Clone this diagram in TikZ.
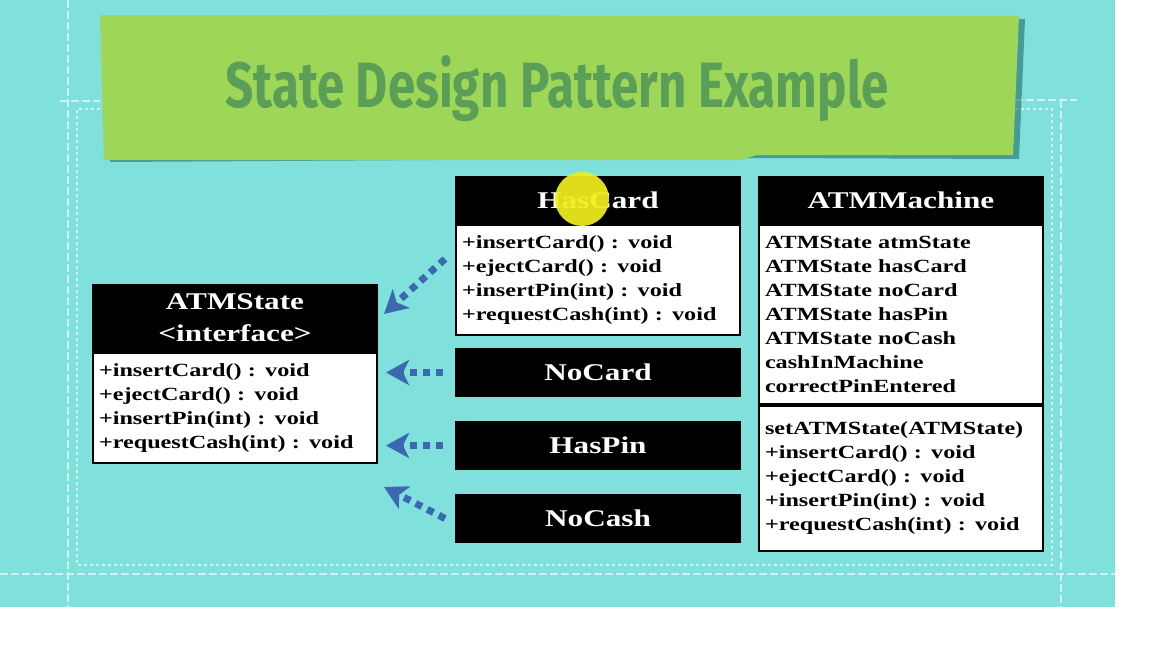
\documentclass[tikz,border=0pt]{standalone}
\usepackage{fontspec}
\usetikzlibrary{arrows.meta}
\newfontfamily\umlfont[FakeStretch=1.3]{Liberation Serif}
\newfontfamily\titlefont[FakeStretch=0.77]{Fira Sans}
\definecolor{turq}{HTML}{80E0DC}
\definecolor{banner}{HTML}{9ED658}
\definecolor{bannerink}{HTML}{5A9E58}
\definecolor{implblue}{HTML}{3B68B0}
\definecolor{pointer}{HTML}{F0EE1E}
\begin{document}
\begin{tikzpicture}[x=0.5pt, y=-0.5pt, line join=miter,
	umlhead/.style={anchor=north west, fill=black, draw=black, line width=1pt, text=white, minimum width=142pt, minimum height=23pt, inner sep=0pt, align=center, font=\umlfont\bfseries\fontsize{12}{16}\selectfont},
	umlbody/.style={anchor=north west, fill=white, draw=black, line width=1pt, text width=136pt, inner xsep=3pt, inner ysep=0pt, align=left, font=\umlfont\bfseries\fontsize{9.3}{12}\selectfont},
	realize/.style={draw=implblue, line width=3.5pt, dash pattern=on 3.5pt off 3pt, -{Stealth[length=11.5pt,width=12.5pt,inset=3pt]}},
	frameout/.style={white, opacity=.6, line width=1pt, dash pattern=on 4pt off 1.5pt},
	framein/.style={white, opacity=.6, line width=1pt, dash pattern=on 1.5pt off 1.5pt}]
	\useasboundingbox (0,0) rectangle (1152,648);
	\fill[turq] (0,0) rectangle (1115,607);
	\draw[frameout] (68,0)--(68,607) (60,101)--(100,101) (0,574)--(1115,574) (1015,100)--(1077,100) (1061,100)--(1061,607);
	\draw[framein] (100,109)--(77,109)--(77,565)--(1052,565)--(1052,109)--(1015,109);
	\fill[black!45!teal, opacity=.45] (106,19)--(1025,19)--(1019,159)--(760,158)--(110,162)--cycle;
	\fill[banner] (100,15)--(1019,16)--(1013,155)--(757,155)--(740,160)--(104,160)--cycle;
	\node[anchor=base, text=bannerink, font=\titlefont\bfseries\fontsize{32}{36}\selectfont] (title) at (557,107) {State Design Pattern Example};
	\node[umlhead] (hascard) at (455,176) {HasCard};
	\node[umlbody, minimum height=55pt] (hascardbody) at (hascard.south west) {+insertCard() : void\\+ejectCard() : void\\+insertPin(int) : void\\+requestCash(int) : void};
	\node[umlhead] (atmmachine) at (758,176) {ATMMachine};
	\node[umlbody, minimum height=89.5pt] (atmfields) at (atmmachine.south west) {ATMState atmState\\ATMState hasCard\\ATMState noCard\\ATMState hasPin\\ATMState noCash\\cashInMachine\\correctPinEntered};
	\node[umlbody, minimum height=72.5pt] (atmmethods) at (atmfields.south west) {setATMState(ATMState)\\+insertCard() : void\\+ejectCard() : void\\+insertPin(int) : void\\+requestCash(int) : void};
	\node[umlhead, minimum height=33pt] (atmstate) at (92,284) {ATMState\\<interface>};
	\node[umlbody, minimum height=55pt] (atmstatebody) at (atmstate.south west) {+insertCard() : void\\+ejectCard() : void\\+insertPin(int) : void\\+requestCash(int) : void};
	\node[umlhead, minimum height=23.5pt] (nocard) at (455,348) {NoCard};
	\node[umlhead, minimum height=23.5pt] (haspin) at (455,421) {HasPin};
	\node[umlhead, minimum height=23.5pt] (nocash) at (455,494) {NoCash};
	\fill[pointer, opacity=.93] (582,199) circle (13.5pt);
	\draw[realize] ([xshift=-5pt,yshift=-17.5pt]hascardbody.north west) -- ([xshift=3pt,yshift=2pt]atmstate.east);
	\draw[realize, shorten <=6pt, shorten >=4pt] (nocard.west) -- (atmstatebody.east |- nocard.west);
	\draw[realize, shorten <=6pt, shorten >=4pt] (haspin.west) -- (atmstatebody.east |- haspin.west);
	\draw[realize] ([xshift=-5pt]nocash.west) -- ([xshift=3pt,yshift=-11.5pt]atmstatebody.south east);
\end{tikzpicture}
\end{document}
